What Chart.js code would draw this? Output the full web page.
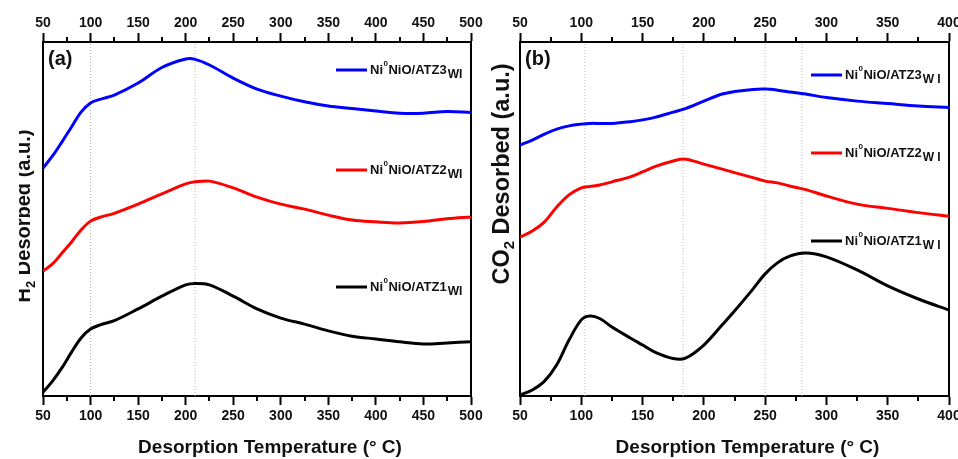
<!DOCTYPE html>
<html>
<head>
<meta charset="utf-8">
<script src="https://cdn.jsdelivr.net/npm/chart.js@4.4.1/dist/chart.umd.min.js"></script>
<style>
  html, body { margin: 0; padding: 0; background: #fff; }
  body { width: 958px; height: 459px; position: relative; overflow: hidden; }
  .panel { position: absolute; top: 0; height: 459px; overflow: hidden; }
  #wrapA { left: 19px; width: 471px; }
  #wrapB { left: 480px; width: 500px; }
  #wrapA canvas { position: absolute; left: -19px; top: 0; }
  #wrapB canvas { position: absolute; left: 0; top: 0; }
</style>
</head>
<body>
<div class="panel" id="wrapA"><canvas id="chartA" width="490" height="459"></canvas></div>
<div class="panel" id="wrapB"><canvas id="chartB" width="500" height="459"></canvas></div>
<script>
// H2 desorption profiles (a)
const h2Temps = [50, 60, 70, 80, 90, 100, 110, 125, 150, 175, 200, 210, 225, 250, 275, 300, 325, 350, 375, 400, 425, 450, 475, 500]
const h2Atz3 = [64.4, 67.8, 71.8, 76.0, 80.2, 82.8, 83.8, 85.0, 88.4, 92.8, 95.2, 95.1, 93.5, 89.8, 86.7, 84.7, 83.1, 81.9, 81.2, 80.5, 79.9, 79.9, 80.4, 80.1]
const h2Atz2 = [35.3, 37.3, 40.4, 43.5, 46.9, 49.4, 50.5, 51.6, 54.2, 57.1, 59.9, 60.5, 60.7, 58.8, 56.2, 54.2, 52.8, 51.1, 49.7, 49.2, 48.9, 49.3, 50.1, 50.6]
const h2Atz1 = [1.1, 4.2, 8.0, 12.4, 16.4, 18.9, 20.1, 21.3, 24.6, 28.2, 31.4, 31.8, 31.4, 28.2, 24.6, 22.0, 20.3, 18.4, 16.9, 16.1, 15.3, 14.7, 15.0, 15.3]
const h2Markers = [100, 210]

// CO2 desorption profiles (b)
const co2Temps = [50, 60, 70, 80, 90, 100, 107, 115, 125, 140, 150, 160, 175, 185, 200, 215, 225, 240, 250, 260, 270, 283, 300, 325, 350, 375, 400]
const co2Atz3 = [70.9, 72.3, 74.0, 75.4, 76.3, 76.8, 77.0, 77.0, 77.0, 77.5, 78.0, 78.7, 80.2, 81.2, 83.3, 85.3, 86.0, 86.6, 86.7, 86.4, 85.9, 85.3, 84.3, 83.3, 82.6, 81.9, 81.5]
const co2Atz2 = [44.9, 46.6, 49.2, 53.4, 56.8, 58.8, 59.2, 59.6, 60.5, 61.9, 63.3, 64.8, 66.4, 66.9, 65.5, 64.1, 63.1, 61.7, 60.7, 60.2, 59.3, 58.3, 56.5, 54.2, 53.0, 51.8, 50.8]
const co2Atz1 = [0.3, 1.7, 4.2, 8.8, 15.8, 21.5, 22.6, 21.9, 19.5, 16.4, 14.4, 12.4, 10.6, 10.7, 14.4, 20.1, 24.0, 30.2, 34.5, 37.6, 39.5, 40.4, 39.3, 35.6, 31.1, 27.4, 24.3]
const co2Markers = [103, 183, 250, 280]

const seriesNames = ['3', '2', '1']
const seriesColors = ['#0000ff', '#ff0000', '#000000']

const FAMILY = '"Liberation Sans", Arial, Helvetica, sans-serif'
Chart.defaults.font.family = FAMILY
Chart.defaults.font.weight = 'bold'
Chart.defaults.color = '#111'

// short minor ticks halfway between the labelled ones, on both x axes
const minorTicks = {
    id: 'minorTicks',
    afterDraw(chart) {
        const { ctx, chartArea } = chart
        const bottom = chart.scales.x
        ctx.save()
        ctx.strokeStyle = '#000'
        ctx.lineWidth = 2
        for (let v = bottom.min + 25; v < bottom.max; v += 50) {
            const px = Math.round(bottom.getPixelForValue(v))
            ctx.beginPath()
            ctx.moveTo(px, chartArea.bottom)
            ctx.lineTo(px, chartArea.bottom + 5)
            ctx.moveTo(px, chartArea.top)
            ctx.lineTo(px, chartArea.top - 5)
            ctx.stroke()
        }
        ctx.restore()
    }
}

// draws a run of [text, size, shift] pieces, centred on x
const drawPieces = (ctx, pieces, x, y) => {
    let total = 0
    pieces.forEach(p => {
        ctx.font = 'bold ' + p[1] + 'px ' + FAMILY
        total += ctx.measureText(p[0]).width
    })
    let cx = x - total / 2
    pieces.forEach(p => {
        ctx.font = 'bold ' + p[1] + 'px ' + FAMILY
        ctx.fillText(p[0], cx, y + p[2])
        cx += ctx.measureText(p[0]).width
    })
}

const axisTitles = {
    id: 'axisTitles',
    afterDraw(chart, args, opts) {
        const { ctx, chartArea } = chart
        ctx.save()
        ctx.fillStyle = '#111'
        ctx.textAlign = 'left'
        ctx.textBaseline = 'alphabetic'
        const midX = (chartArea.left + chartArea.right) / 2
        drawPieces(ctx, [['Desorption Temperature (° C)', 19, 0]], midX + 13, chartArea.bottom + 57)

        ctx.translate(opts.yBaseline, opts.yCenter)
        ctx.rotate(-Math.PI / 2)
        const s = opts.ySize
        drawPieces(ctx, [[opts.yLead, s, 0], ['2', Math.round(s * 0.65), 5], [' Desorbed (a.u.)', s, 0]], 0, 0)
        ctx.restore()
    }
}

const drawSampleName = (ctx, x, y, num, sub) => {
    ctx.textBaseline = 'middle'
    ctx.textAlign = 'left'
    ctx.font = 'bold 13px ' + FAMILY
    ctx.fillText('Ni', x, y)
    x += ctx.measureText('Ni').width
    ctx.font = 'bold 8px ' + FAMILY
    ctx.fillText('0', x + 0.5, y - 6)
    x += ctx.measureText('0').width + 1
    ctx.font = 'bold 13px ' + FAMILY
    const main = 'NiO/ATZ' + num
    ctx.fillText(main, x, y)
    x += ctx.measureText(main).width + 1
    ctx.font = 'bold 12px ' + FAMILY
    ctx.fillText(sub, x, y + 5)
}

// panel letter and the in-plot sample labels
const seriesLabels = {
    id: 'seriesLabels',
    afterDatasetsDraw(chart, args, opts) {
        const { ctx, chartArea } = chart
        ctx.save()
        ctx.fillStyle = '#111'
        ctx.font = 'bold 20px ' + FAMILY
        ctx.textBaseline = 'middle'
        ctx.fillText(opts.panel, chartArea.left + 5, chartArea.top + 17)
        opts.rows.forEach((row, i) => {
            const x0 = chartArea.left + opts.lineStart
            ctx.strokeStyle = seriesColors[i]
            ctx.lineWidth = 3
            ctx.beginPath()
            ctx.moveTo(x0, chartArea.top + row)
            ctx.lineTo(x0 + 31, chartArea.top + row)
            ctx.stroke()
            ctx.fillStyle = '#111'
            drawSampleName(ctx, x0 + 34, chartArea.top + row, seriesNames[i], opts.sub)
        })
        ctx.restore()
    }
}

const buildPanel = (canvasId, temps, series, markers, cfg) => {
    const toPoints = (vals) => temps.map((t, i) => ({ x: t, y: vals[i] }))
    const curves = series.map((vals, i) => ({
        data: toPoints(vals),
        borderColor: seriesColors[i],
        borderWidth: 3,
        pointRadius: 0,
        tension: 0.35,
        fill: false
    }))
    const guides = markers.map(t => ({
        data: [{ x: t, y: 0 }, { x: t, y: 100 }],
        borderColor: '#b4b4b4',
        borderWidth: 1,
        borderDash: [1, 2],
        pointRadius: 0
    }))

    const xTicks = {
        stepSize: 50,
        font: { size: 14, weight: 'bold' },
        color: '#111',
        maxRotation: 0
    }
    const axisGrid = { drawOnChartArea: false, tickLength: 9, tickWidth: 2, tickColor: '#000' }
    const axisBorder = { color: '#000', width: 2 }

    return new Chart(document.getElementById(canvasId), {
        type: 'line',
        data: { datasets: [...curves, ...guides] },
        options: {
            responsive: false,
            animation: false,
            devicePixelRatio: 1,
            layout: { padding: { left: 0, right: cfg.padRight, top: 0, bottom: 0 } },
            plugins: {
                legend: { display: false },
                tooltip: { enabled: false },
                seriesLabels: cfg.labels,
                axisTitles: cfg.titles
            },
            scales: {
                x: {
                    type: 'linear',
                    position: 'bottom',
                    min: 50,
                    max: cfg.xMax,
                    ticks: { ...xTicks, padding: 3 },
                    grid: axisGrid,
                    border: axisBorder,
                    afterFit: s => { s.height = 63 }
                },
                xTop: {
                    type: 'linear',
                    position: 'top',
                    min: 50,
                    max: cfg.xMax,
                    ticks: { ...xTicks, padding: 1 },
                    grid: axisGrid,
                    border: axisBorder,
                    afterFit: s => { s.height = 42 }
                },
                y: {
                    min: 0,
                    max: 100,
                    ticks: { display: false },
                    grid: { drawOnChartArea: false, drawTicks: false },
                    border: axisBorder,
                    afterFit: s => { s.width = cfg.yWidth }
                },
                yRight: {
                    position: 'right',
                    min: 0,
                    max: 100,
                    ticks: { display: false },
                    grid: { drawOnChartArea: false, drawTicks: false },
                    border: axisBorder,
                    afterFit: s => { s.width = 0 }
                }
            }
        },
        plugins: [minorTicks, seriesLabels, axisTitles]
    })
}

buildPanel('chartA', h2Temps, [h2Atz3, h2Atz2, h2Atz1], h2Markers, {
    xMax: 500,
    padRight: 19,
    yWidth: 43,
    titles: { yLead: 'H', ySize: 20, yBaseline: 30, yCenter: 216 },
    labels: { panel: '(a)', lineStart: 293, rows: [28, 128, 245], sub: 'WI' }
})

buildPanel('chartB', co2Temps, [co2Atz3, co2Atz2, co2Atz1], co2Markers, {
    xMax: 400,
    padRight: 31,
    yWidth: 40,
    titles: { yLead: 'CO', ySize: 23.5, yBaseline: 29, yCenter: 174 },
    labels: { panel: '(b)', lineStart: 291, rows: [33, 111, 199], sub: 'W I' }
})
</script>
</body>
</html>
